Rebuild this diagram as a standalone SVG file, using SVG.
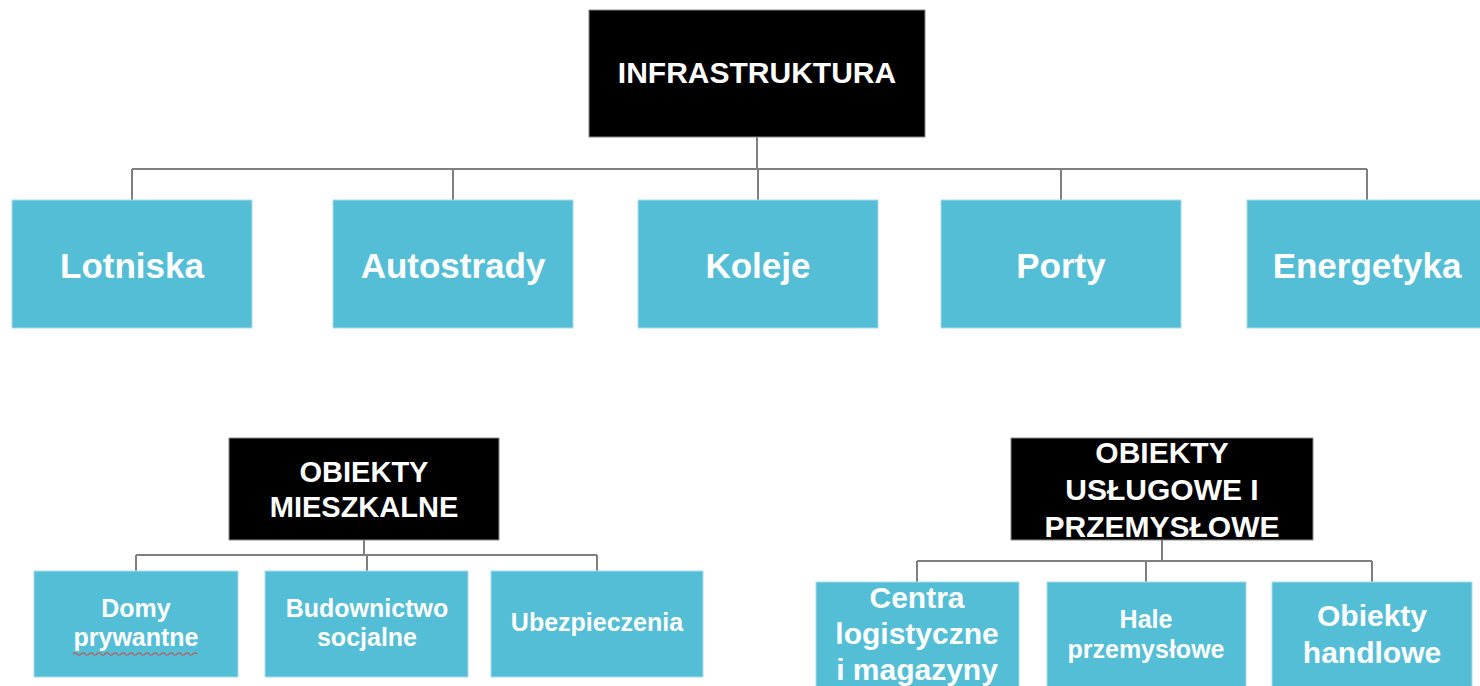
<svg xmlns="http://www.w3.org/2000/svg" width="1480" height="686" viewBox="0 0 1480 686">
<style>
.dark{fill:#000;stroke:#8a8a8a;stroke-width:1}
.blue{fill:#54BED6;stroke:#a9dde9;stroke-width:1}
.t{font-family:"Liberation Sans",Arial,sans-serif;font-weight:bold;fill:#fff;text-anchor:middle}
.conn{fill:none;stroke:#7f7f7f;stroke-width:2}
</style>
<rect width="1480" height="686" fill="#fff"/>
<g id="connectors">
<path class="conn" d="M757,137 V169 M132,169 H1367 M132,169 V200 M453,169 V200 M758,169 V200 M1061,169 V200 M1367,169 V200"/>
<path class="conn" d="M364,540 V555 M136,555 H597 M136,555 V571 M367,555 V571 M597,555 V571"/>
<path class="conn" d="M1162,540 V561 M917,561 H1372 M917,561 V582 M1146,561 V582 M1372,561 V582"/>
</g>
<g id="infrastruktura">
<rect class="dark" x="589" y="10" width="336" height="127"/>
<text class="t" x="757" y="83" font-size="30">INFRASTRUKTURA</text>
</g>
<g id="lotniska">
<rect class="blue" x="12" y="200" width="240" height="128"/>
<text class="t" x="132" y="278" font-size="35">Lotniska</text>
</g>
<g id="autostrady">
<rect class="blue" x="333" y="200" width="240" height="128"/>
<text class="t" x="453" y="278" font-size="35">Autostrady</text>
</g>
<g id="koleje">
<rect class="blue" x="638" y="200" width="240" height="128"/>
<text class="t" x="758" y="278" font-size="35">Koleje</text>
</g>
<g id="porty">
<rect class="blue" x="941" y="200" width="240" height="128"/>
<text class="t" x="1061" y="278" font-size="35">Porty</text>
</g>
<g id="energetyka">
<rect class="blue" x="1247" y="200" width="240" height="128"/>
<text class="t" x="1367" y="278" font-size="35">Energetyka</text>
</g>
<g id="obiekty-mieszkalne">
<rect class="dark" x="229" y="438" width="270" height="102"/>
<text class="t" x="364" y="482" font-size="29">OBIEKTY</text>
<text class="t" x="364" y="517" font-size="29">MIESZKALNE</text>
</g>
<g id="domy">
<rect class="blue" x="34" y="571" width="204" height="106"/>
<text class="t" x="136" y="617" font-size="25">Domy</text>
<text class="t" x="136" y="646" font-size="25">prywantne</text>
<path d="M73,654 q2,-2.5 4,0 t4,0 t4,0 t4,0 t4,0 t4,0 t4,0 t4,0 t4,0 t4,0 t4,0 t4,0 t4,0 t4,0 t4,0 t4,0 t4,0 t4,0 t4,0 t4,0 t4,0 t4,0 t4,0 t4,0 t4,0 t4,0 t4,0 t4,0 t4,0 t4,0 t4,0" fill="none" stroke="#d04848" stroke-width="1.2"/>
</g>
<g id="budownictwo">
<rect class="blue" x="265" y="571" width="203" height="106"/>
<text class="t" x="367" y="617" font-size="25">Budownictwo</text>
<text class="t" x="367" y="646" font-size="25">socjalne</text>
</g>
<g id="ubezpieczenia">
<rect class="blue" x="491" y="571" width="212" height="106"/>
<text class="t" x="597" y="631" font-size="25">Ubezpieczenia</text>
</g>
<g id="obiekty-uslugowe">
<rect class="dark" x="1011" y="438" width="302" height="102"/>
<text class="t" x="1162" y="463" font-size="30">OBIEKTY</text>
<text class="t" x="1162" y="500" font-size="30">USŁUGOWE I</text>
<text class="t" x="1162" y="537" font-size="30">PRZEMYSŁOWE</text>
</g>
<g id="centra">
<rect class="blue" x="816" y="582" width="203" height="120"/>
<text class="t" x="917" y="608" font-size="30">Centra</text>
<text class="t" x="917" y="644" font-size="30">logistyczne</text>
<text class="t" x="917" y="680" font-size="30">i magazyny</text>
</g>
<g id="hale">
<rect class="blue" x="1047" y="582" width="199" height="120"/>
<text class="t" x="1146" y="628" font-size="25">Hale</text>
<text class="t" x="1146" y="658" font-size="25">przemysłowe</text>
</g>
<g id="obiekty-handlowe">
<rect class="blue" x="1272" y="582" width="200" height="120"/>
<text class="t" x="1372" y="626" font-size="30">Obiekty</text>
<text class="t" x="1372" y="663" font-size="30">handlowe</text>
</g>
</svg>
